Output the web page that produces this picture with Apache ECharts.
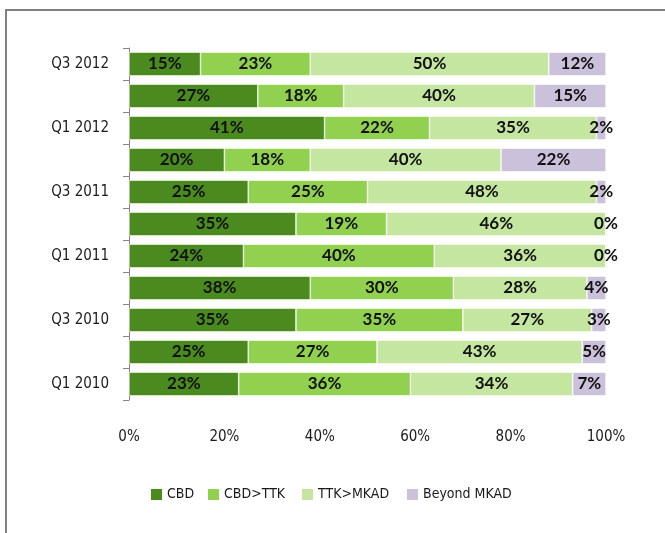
<!DOCTYPE html>
<html><head><meta charset="utf-8">
<script src="https://cdn.jsdelivr.net/npm/echarts@6/dist/echarts.min.js"></script>
<style>html,body{margin:0;padding:0;background:#fff}#c{width:665px;height:533px}</style>
</head><body><div id="c"></div>
<script>
const categories = ['Q1 2010','Q2 2010','Q3 2010','Q4 2010','Q1 2011','Q2 2011','Q3 2011','Q4 2011','Q1 2012','Q2 2012','Q3 2012'];
const seriesNames = ['CBD','CBD>TTK','TTK>MKAD','Beyond MKAD'];
const cbd      = [23, 25, 35, 38, 24, 35, 25, 20, 41, 27, 15];
const cbdTtk   = [36, 27, 35, 30, 40, 19, 25, 18, 22, 18, 23];
const ttkMkad  = [34, 43, 27, 28, 36, 46, 48, 40, 35, 40, 50];
const beyond   = [7, 5, 3, 4, 0, 0, 2, 22, 2, 15, 12];
const xTicks = [0, 20, 40, 60, 80, 100];

const colors = ['#4b8a1e', '#92d050', '#c4e6a0', '#ccc1da'];
const condensed = "'Liberation Sans Narrow','DejaVu Sans Condensed',sans-serif";
const values = [cbd, cbdTtk, ttkMkad, beyond];
const legendLeft = [149, 206, 300, 405];

const chart = echarts.init(document.getElementById('c'));
chart.setOption({
  animation: false,
  graphic: [{
    type: 'rect', shape: {x: 6, y: 10, width: 700, height: 560},
    style: {fill: 'none', stroke: '#808080', lineWidth: 2}, silent: true
  }],
  grid: {left: 129, right: 59, top: 48, bottom: 133, containLabel: false},
  legend: seriesNames.map((n, i) => ({
    data: [n], left: legendLeft[i], top: 487, padding: 0, itemWidth: 13, itemHeight: 13,
    icon: 'rect', itemGap: 0,
    textStyle: {fontFamily: condensed, fontSize: 14, color: '#1a1a1a', padding: [0,0,0,-1]}
  })),
  xAxis: {
    type: 'value', min: 0, max: 100, interval: 20,
    axisLine: {show: false}, axisTick: {show: false}, splitLine: {show: false},
    axisLabel: {margin: 30, fontFamily: condensed, fontSize: 15, color: '#1a1a1a',
      formatter: v => xTicks.indexOf(v) >= 0 ? v + '%' : ''}
  },
  yAxis: {
    type: 'category', data: categories,
    axisLine: {show: true, lineStyle: {color: '#868686', width: 1}},
    axisTick: {show: true, length: 6, interval: 0, lineStyle: {color: '#868686'}},
    axisLabel: {interval: 1, margin: 20, fontFamily: condensed, fontSize: 15, color: '#1a1a1a'}
  },
  series: values.map((d, i) => ({
    name: seriesNames[i], type: 'bar', stack: 'all', data: d,
    barCategoryGap: '26%',
    itemStyle: {color: colors[i], borderColor: '#fff', borderWidth: 0.6},
    label: {show: true, position: 'inside', formatter: '{c}%',
      fontFamily: "Lato,'Open Sans',sans-serif", fontWeight: 'bold', fontSize: 17, color: '#111'}
  }))
});
</script></body></html>
